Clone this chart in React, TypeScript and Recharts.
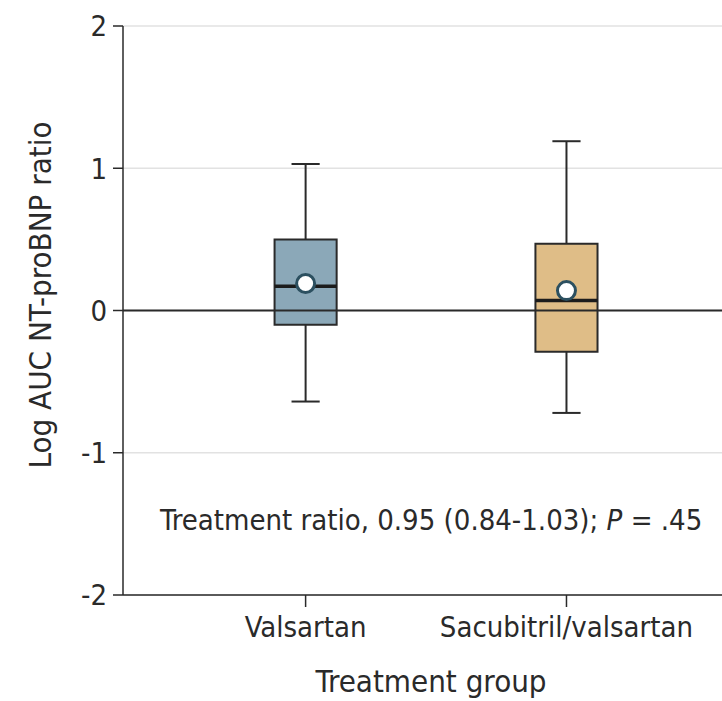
import {
  ComposedChart,
  XAxis,
  YAxis,
  CartesianGrid,
  ReferenceLine,
  ReferenceArea,
  Scatter,
} from "recharts";

// per-group box summaries, log AUC NT-proBNP ratio
const groups = ["Valsartan", "Sacubitril/valsartan"];
const groupX = [1, 2];
const whiskerLow = [-0.64, -0.72];
const q1 = [-0.1, -0.29];
const median = [0.17, 0.07];
const q3 = [0.5, 0.47];
const whiskerHigh = [1.03, 1.19];
const mean = [0.19, 0.14];
const boxColors = ["#8ba8b8", "#dfbd87"];
const yTicks = [-2, -1, 0, 1, 2];

const data = groupX.map((x, i) => ({ x, mean: mean[i] }));

const FONT = "'DejaVu Sans Condensed', 'Liberation Sans Narrow', 'Roboto', sans-serif";
const INK = "#2a2a2a";
const BOX_HALF = 0.119;
const CAP_HALF = 0.054;

function YTitle({ viewBox }: { viewBox?: { x: number; y: number; width: number; height: number } }) {
  if (!viewBox) return null;
  const cx = 40;
  const cy = 295;
  return (
    <text x={cx} y={cy} transform={`rotate(-90 ${cx} ${cy})`} textAnchor="middle"
      dominantBaseline="central" fontSize={31} fill={INK} fontFamily={FONT}>
      Log AUC NT-proBNP ratio
    </text>
  );
}

function MeanDot(props: { cx?: number; cy?: number }) {
  const { cx, cy } = props;
  if (cx == null || cy == null) return null;
  return <circle cx={cx} cy={cy} r={9} fill="#ffffff" stroke="#2c5060" strokeWidth={3} />;
}

export default function App() {
  return (
    <div style={{ position: "absolute", left: 0, top: 0, width: 722, height: 701, overflow: "hidden", background: "#fff" }}>
      <ComposedChart width={723} height={701} data={data} margin={{ top: 26, right: 0, left: 0, bottom: 0 }}
        style={{ fontFamily: FONT }}>
        <CartesianGrid vertical={false} stroke="#e2e2e2" strokeWidth={1.5} />
        <XAxis
          type="number"
          dataKey="x"
          domain={[0.3, 2.6]}
          ticks={groupX}
          allowDataOverflow
          tickFormatter={(v: number) => groups[v - 1] ?? ""}
          stroke={INK}
          strokeWidth={1.5}
          tickSize={12}
          tickMargin={9}
          height={106}
          tick={{ fontSize: 29, fill: INK, fontFamily: FONT }}
          label={{ value: "Treatment group", position: "insideBottom", offset: 9, dx: 8, fontSize: 31, fill: INK, fontFamily: FONT }}
        />
        <YAxis
          type="number"
          domain={[-2, 2]}
          ticks={yTicks}
          allowDataOverflow
          width={123}
          stroke={INK}
          strokeWidth={1.5}
          tickSize={10}
          tickMargin={6}
          tick={{ fontSize: 29, fill: INK, fontFamily: FONT }}
          label={<YTitle />}
        />
        <ReferenceLine y={0} stroke={INK} strokeWidth={1.8} />

        {groupX.map((gx, i) => (
          <ReferenceLine key={`wl-${i}`} segment={[{ x: gx, y: whiskerLow[i] }, { x: gx, y: q1[i] }]}
            stroke={INK} strokeWidth={2} />
        ))}
        {groupX.map((gx, i) => (
          <ReferenceLine key={`wh-${i}`} segment={[{ x: gx, y: q3[i] }, { x: gx, y: whiskerHigh[i] }]}
            stroke={INK} strokeWidth={2} />
        ))}
        {groupX.map((gx, i) => (
          <ReferenceLine key={`cl-${i}`} segment={[{ x: gx - CAP_HALF, y: whiskerLow[i] }, { x: gx + CAP_HALF, y: whiskerLow[i] }]}
            stroke={INK} strokeWidth={2} />
        ))}
        {groupX.map((gx, i) => (
          <ReferenceLine key={`ch-${i}`} segment={[{ x: gx - CAP_HALF, y: whiskerHigh[i] }, { x: gx + CAP_HALF, y: whiskerHigh[i] }]}
            stroke={INK} strokeWidth={2} />
        ))}
        {groupX.map((gx, i) => (
          <ReferenceArea key={`box-${i}`} x1={gx - BOX_HALF} x2={gx + BOX_HALF} y1={q1[i]} y2={q3[i]}
            fill={boxColors[i]} fillOpacity={1} stroke={INK} strokeWidth={2} />
        ))}
        {groupX.map((gx, i) => (
          <ReferenceLine key={`md-${i}`} segment={[{ x: gx - BOX_HALF, y: median[i] }, { x: gx + BOX_HALF, y: median[i] }]}
            stroke="#1c1c1c" strokeWidth={3.5} />
        ))}
        <Scatter dataKey="mean" shape={<MeanDot />} isAnimationActive={false} />
      </ComposedChart>
      <div style={{ position: "absolute", left: 160, top: 503, fontFamily: FONT, fontSize: 29, color: INK, whiteSpace: "nowrap" }}>
        Treatment ratio, 0.95 (0.84-1.03); <i>P</i> = .45
      </div>
    </div>
  );
}
